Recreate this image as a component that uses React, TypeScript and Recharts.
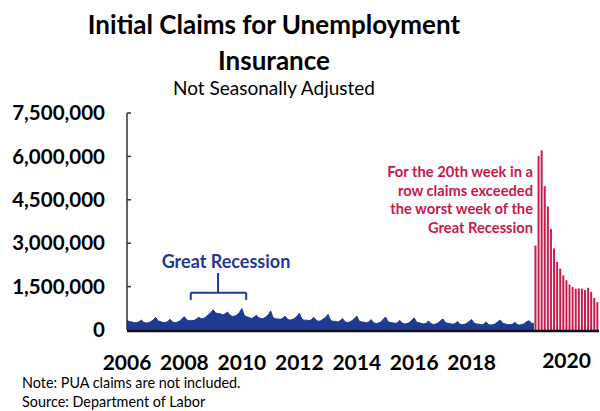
import React from 'react';
import { ComposedChart, Area, Bar, XAxis, YAxis, ReferenceLine } from 'recharts';

// Monthly initial claims (thousands), Jan..Dec
const claims2006 = [330, 290, 280, 250, 260, 280, 340, 270, 240, 250, 290, 350];
const claims2007 = [440, 310, 290, 260, 260, 290, 370, 280, 250, 270, 310, 390];
const claims2008 = [460, 340, 330, 320, 330, 380, 440, 390, 400, 450, 530, 600];
const claims2009 = [700, 590, 570, 560, 520, 560, 620, 520, 470, 480, 520, 610];
const claims2010 = [740, 500, 460, 430, 400, 440, 510, 430, 390, 400, 450, 520];
const claims2011 = [660, 430, 390, 380, 370, 400, 480, 380, 340, 360, 400, 470];
const claims2012 = [580, 380, 340, 340, 320, 350, 440, 340, 300, 320, 380, 440];
const claims2013 = [540, 340, 300, 300, 280, 310, 400, 290, 250, 280, 320, 400];
const claims2014 = [480, 310, 280, 270, 250, 280, 360, 260, 220, 240, 280, 360];
const claims2015 = [450, 290, 260, 250, 230, 250, 330, 240, 210, 220, 260, 340];
const claims2016 = [420, 270, 250, 230, 210, 230, 310, 220, 190, 210, 240, 320];
const claims2017 = [380, 260, 230, 220, 200, 220, 290, 210, 180, 200, 230, 300];
const claims2018 = [360, 240, 210, 200, 180, 200, 280, 190, 170, 190, 220, 290];
const claims2019 = [340, 230, 210, 190, 180, 200, 270, 190, 170, 190, 220, 290];
const claims2020 = [320, 230, 230];

const historyYears = [
  claims2006, claims2007, claims2008, claims2009, claims2010, claims2011, claims2012,
  claims2013, claims2014, claims2015, claims2016, claims2017, claims2018, claims2019, claims2020,
];
const firstYear = 2006;

// Weekly claims since the pandemic began (week ending, 2020)
const weekEnding2020 = [
  '3/21', '3/28', '4/4', '4/11', '4/18', '4/25', '5/2', '5/9', '5/16', '5/23', '5/30',
  '6/6', '6/13', '6/20', '6/27', '7/4', '7/11', '7/18', '7/25', '8/1', '8/8',
];
const weeklyClaims2020 = [
  2920000, 6015000, 6211000, 4971000, 4267000, 3490000, 2820000, 2350000, 2120000, 1890000, 1720000,
  1570000, 1490000, 1430000, 1440000, 1430000, 1380000, 1460000, 1320000, 1110000, 960000,
];

const yTicks = [0, 1500000, 3000000, 4500000, 6000000, 7500000];
const yearTicks = [2006, 2008, 2010, 2012, 2014, 2016, 2018];

const BLUE = '#1F3A93';
const RED = '#C81E4E';
const FONT = 'Lato, "Noto Sans", sans-serif';

const historyData = historyYears.flatMap((months, yi) =>
  months.map((v, m) => ({ t: firstYear + yi + m / 12, claims: v * 1000 }))
);
const weeklyData = weekEnding2020.map((week, i) => ({ week, claims: weeklyClaims2020[i] }));

const yTickStyle = { fill: '#000', fontSize: 20.5, fontWeight: 700, fontFamily: FONT };
const xTickStyle = { fill: '#000', fontSize: 21, fontWeight: 700, fontFamily: FONT };

// the recession bracket, in data units of the history axis
const bracketY = 1290000;
const bracketHookY = 1040000;
const bracketLeft = 2008.22;
const bracketRight = 2010.15;
const bracketMid = 2009.17;

export default function App() {
  return (
    <div style={{ position: 'absolute', left: 0, top: 0, width: 600, height: 411, background: '#fff', fontFamily: FONT }}>
      <div style={{ position: 'absolute', top: 6, left: 0, width: 548, textAlign: 'center', fontSize: 26, fontWeight: 700, lineHeight: '36px', color: '#000' }}>
        Initial Claims for Unemployment
        <br />
        Insurance
      </div>
      <div style={{ position: 'absolute', top: 75, left: 0, width: 548, textAlign: 'center', fontSize: 19, lineHeight: '25px', color: '#000' }}>
        Not Seasonally Adjusted
      </div>

      <div style={{ position: 'absolute', left: 0, top: 0 }}>
        <ComposedChart
          width={600}
          height={411}
          data={weeklyData}
          margin={{ top: 113, right: 1, bottom: 79, left: 27 }}
          barCategoryGap="15%"
        >
          <YAxis
            type="number"
            domain={[0, 7500000]}
            ticks={yTicks}
            interval={0}
            width={100}
            tickFormatter={(v: number) => v.toLocaleString('en-US')}
            tick={yTickStyle}
            tickSize={-4}
            tickMargin={26}
            axisLine={{ stroke: '#333', strokeWidth: 1.5 }}
            tickLine={{ stroke: '#333', strokeWidth: 1.5 }}
          />
          <XAxis
            xAxisId="years"
            type="number"
            dataKey="t"
            domain={[2006, 2020.17]}
            allowDataOverflow
            ticks={yearTicks}
            interval={0}
            height={1}
            padding={{ left: 0, right: 65 }}
            tick={xTickStyle}
            tickLine={false}
            tickSize={0}
            tickMargin={24}
            axisLine={{ stroke: '#111', strokeWidth: 2.5 }}
          />
          <XAxis
            xAxisId="weeks"
            type="category"
            dataKey="week"
            interval={0}
            height={1}
            padding={{ left: 407, right: 0 }}
            tick={xTickStyle}
            tickFormatter={(_v: string, i: number) => (i === 10 ? '2020' : '')}
            tickLine={false}
            tickSize={0}
            tickMargin={23}
            axisLine={false}
          />
          <Area
            xAxisId="years"
            data={historyData}
            dataKey="claims"
            type="linear"
            stroke={BLUE}
            strokeWidth={1}
            fill={BLUE}
            fillOpacity={1}
            isAnimationActive={false}
          />
          <Bar xAxisId="weeks" dataKey="claims" fill={RED} isAnimationActive={false} />

          <ReferenceLine xAxisId="years" stroke={BLUE} strokeWidth={2}
            segment={[{ x: bracketLeft, y: bracketY }, { x: bracketRight, y: bracketY }]} />
          <ReferenceLine xAxisId="years" stroke={BLUE} strokeWidth={2}
            segment={[{ x: bracketLeft, y: bracketY }, { x: bracketLeft, y: bracketHookY }]} />
          <ReferenceLine xAxisId="years" stroke={BLUE} strokeWidth={2}
            segment={[{ x: bracketRight, y: bracketY }, { x: bracketRight, y: bracketHookY }]} />
          <ReferenceLine xAxisId="years" stroke={BLUE} strokeWidth={2}
            segment={[{ x: bracketMid, y: bracketY }, { x: bracketMid, y: 1970000 }]} />
        </ComposedChart>
      </div>

      <div style={{ position: 'absolute', left: 136, top: 251, width: 180, textAlign: 'center', fontSize: 18, fontWeight: 700, lineHeight: '20px', color: BLUE }}>
        Great Recession
      </div>
      <div style={{ position: 'absolute', left: 313, top: 162, width: 220, textAlign: 'right', fontSize: 14.7, fontWeight: 700, lineHeight: '18.5px', color: '#C8184A' }}>
        For the 20th week in a
        <br />
        row claims exceeded
        <br />
        the worst week of the
        <br />
        Great Recession
      </div>
      <div style={{ position: 'absolute', left: 22, top: 373, fontSize: 14.4, lineHeight: '19px', color: '#000' }}>
        Note: PUA claims are not included.
        <br />
        Source: Department of Labor
      </div>
    </div>
  );
}
